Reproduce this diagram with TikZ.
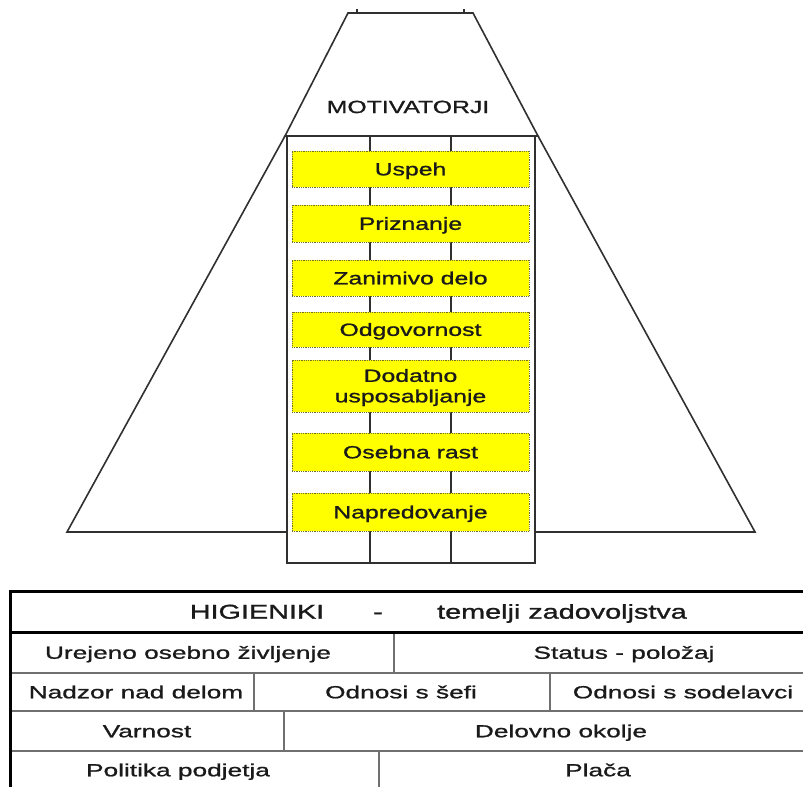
\documentclass[tikz,border=0pt]{standalone}
\usepackage{fontspec}
\newfontfamily\motfont{Liberation Sans}[FakeStretch=1.40,FakeBold=1.2]
\newfontfamily\tabfont{Liberation Sans}[FakeStretch=1.50,FakeBold=1.0]
\newfontfamily\headfont{Liberation Sans}[FakeStretch=1.44,FakeBold=1.3]
\definecolor{lin}{HTML}{303030}
\definecolor{yel}{HTML}{FFFF00}
\definecolor{dotc}{HTML}{70702A}
\definecolor{rowc}{HTML}{707070}
\definecolor{txt}{HTML}{1A1A1A}
\begin{document}
\begin{tikzpicture}[x=1pt,y=-1pt,
  pyr/.style={draw=lin, line width=1.6pt, line join=miter},
  ybox/.style={fill=yel, draw=dotc, densely dotted, line width=0.8pt,
    minimum width=237pt, inner sep=0pt},
  mtext/.style={font=\motfont\fontsize{17.7}{20.5}\selectfont, text=txt, inner sep=0pt, align=center},
  capbox/.style={text height=12.7pt, text depth=0pt},
  ttext/.style={font=\tabfont\fontsize{17.5}{21}\selectfont, text=txt, inner sep=0pt, text height=12.5pt, text depth=0pt},
  htext/.style={font=\headfont\fontsize{20}{24}\selectfont, text=txt, inner sep=0pt, text height=14.3pt, text depth=0pt},
  thickline/.style={draw=black, line width=3pt},
  rowline/.style={draw=rowc, line width=1.4pt},
  colline/.style={draw=rowc, line width=1.4pt}
]
\useasboundingbox (0,0) rectangle (803,787);
\fill[white] (0,0) rectangle (803,787);

% top trapezoid
\coordinate (tl) at (348,13);
\coordinate (tr) at (473,13);
\coordinate (bl) at (285,136);
\coordinate (br) at (538,136);
\draw[pyr] (bl) -- (tl) -- (tr) -- (br) -- cycle;
\draw[pyr] (357,9) -- (357,13);
\draw[pyr] (464,9) -- (464,13);

% big pyramid sides and base
\coordinate (pl) at (67,532);
\coordinate (pr) at (755,532);
\coordinate (cl) at (287,532);
\coordinate (cr) at (535,532);
\draw[pyr] (bl) -- (pl) -- (cl);
\draw[pyr] (br) -- (pr) -- (cr);

% column
\draw[pyr] (287,136) rectangle (535,563);
\draw[pyr] (370,136) -- (370,563);
\draw[pyr] (451,136) -- (451,563);

\node[mtext, capbox] (mot) at (408,106.7) {MOTIVATORJI};

% yellow boxes
\node[ybox, mtext, capbox, minimum height=36pt] (b1) at (410.5,169) {Uspeh};
\node[ybox, mtext, capbox, minimum height=37pt] (b2) at (410.5,223.5) {Priznanje};
\node[ybox, mtext, capbox, minimum height=36pt] (b3) at (410.5,278) {Zanimivo delo};
\node[ybox, mtext, capbox, minimum height=35pt] (b4) at (410.5,329.5) {Odgovornost};
\node[ybox, minimum height=52pt] (b5) at (410.5,386) {};
\node[mtext] (t5) at (410.5,387.5) {Dodatno\\usposabljanje};
\node[ybox, mtext, capbox, minimum height=38pt] (b6) at (410.5,452) {Osebna rast};
\node[ybox, mtext, capbox, minimum height=38pt] (b7) at (410.5,512) {Napredovanje};

% table
\draw[rowline] (10,673) -- (803,673);
\draw[rowline] (10,711) -- (803,711);
\draw[rowline] (10,751) -- (803,751);
\draw[colline] (394,632) -- (394,673);
\draw[colline] (254,673) -- (254,711);
\draw[colline] (550,673) -- (550,711);
\draw[colline] (284,711) -- (284,751);
\draw[colline] (379,751) -- (379,787);
\draw[thickline] (803,591) -- (10,591) -- (10,787);
\draw[thickline] (10,632) -- (803,632);

\node[htext] (hig) at (257,611.5) {HIGIENIKI};
\node[htext] (dash) at (378,611.5) {-};
\node[htext] (tem) at (562,611.5) {temelji zadovoljstva};

\node[ttext] (ure) at (188,652.5) {Urejeno osebno življenje};
\node[ttext] (sta) at (624,652.5) {Status - položaj};
\node[ttext] (nad) at (136,692) {Nadzor nad delom};
\node[ttext] (sef) at (401,692) {Odnosi s šefi};
\node[ttext] (sod) at (683,692) {Odnosi s sodelavci};
\node[ttext] (var) at (147,731) {Varnost};
\node[ttext] (del) at (561,731) {Delovno okolje};
\node[ttext] (pol) at (178,770) {Politika podjetja};
\node[ttext] (pla) at (598,770) {Plača};
\end{tikzpicture}
\end{document}
